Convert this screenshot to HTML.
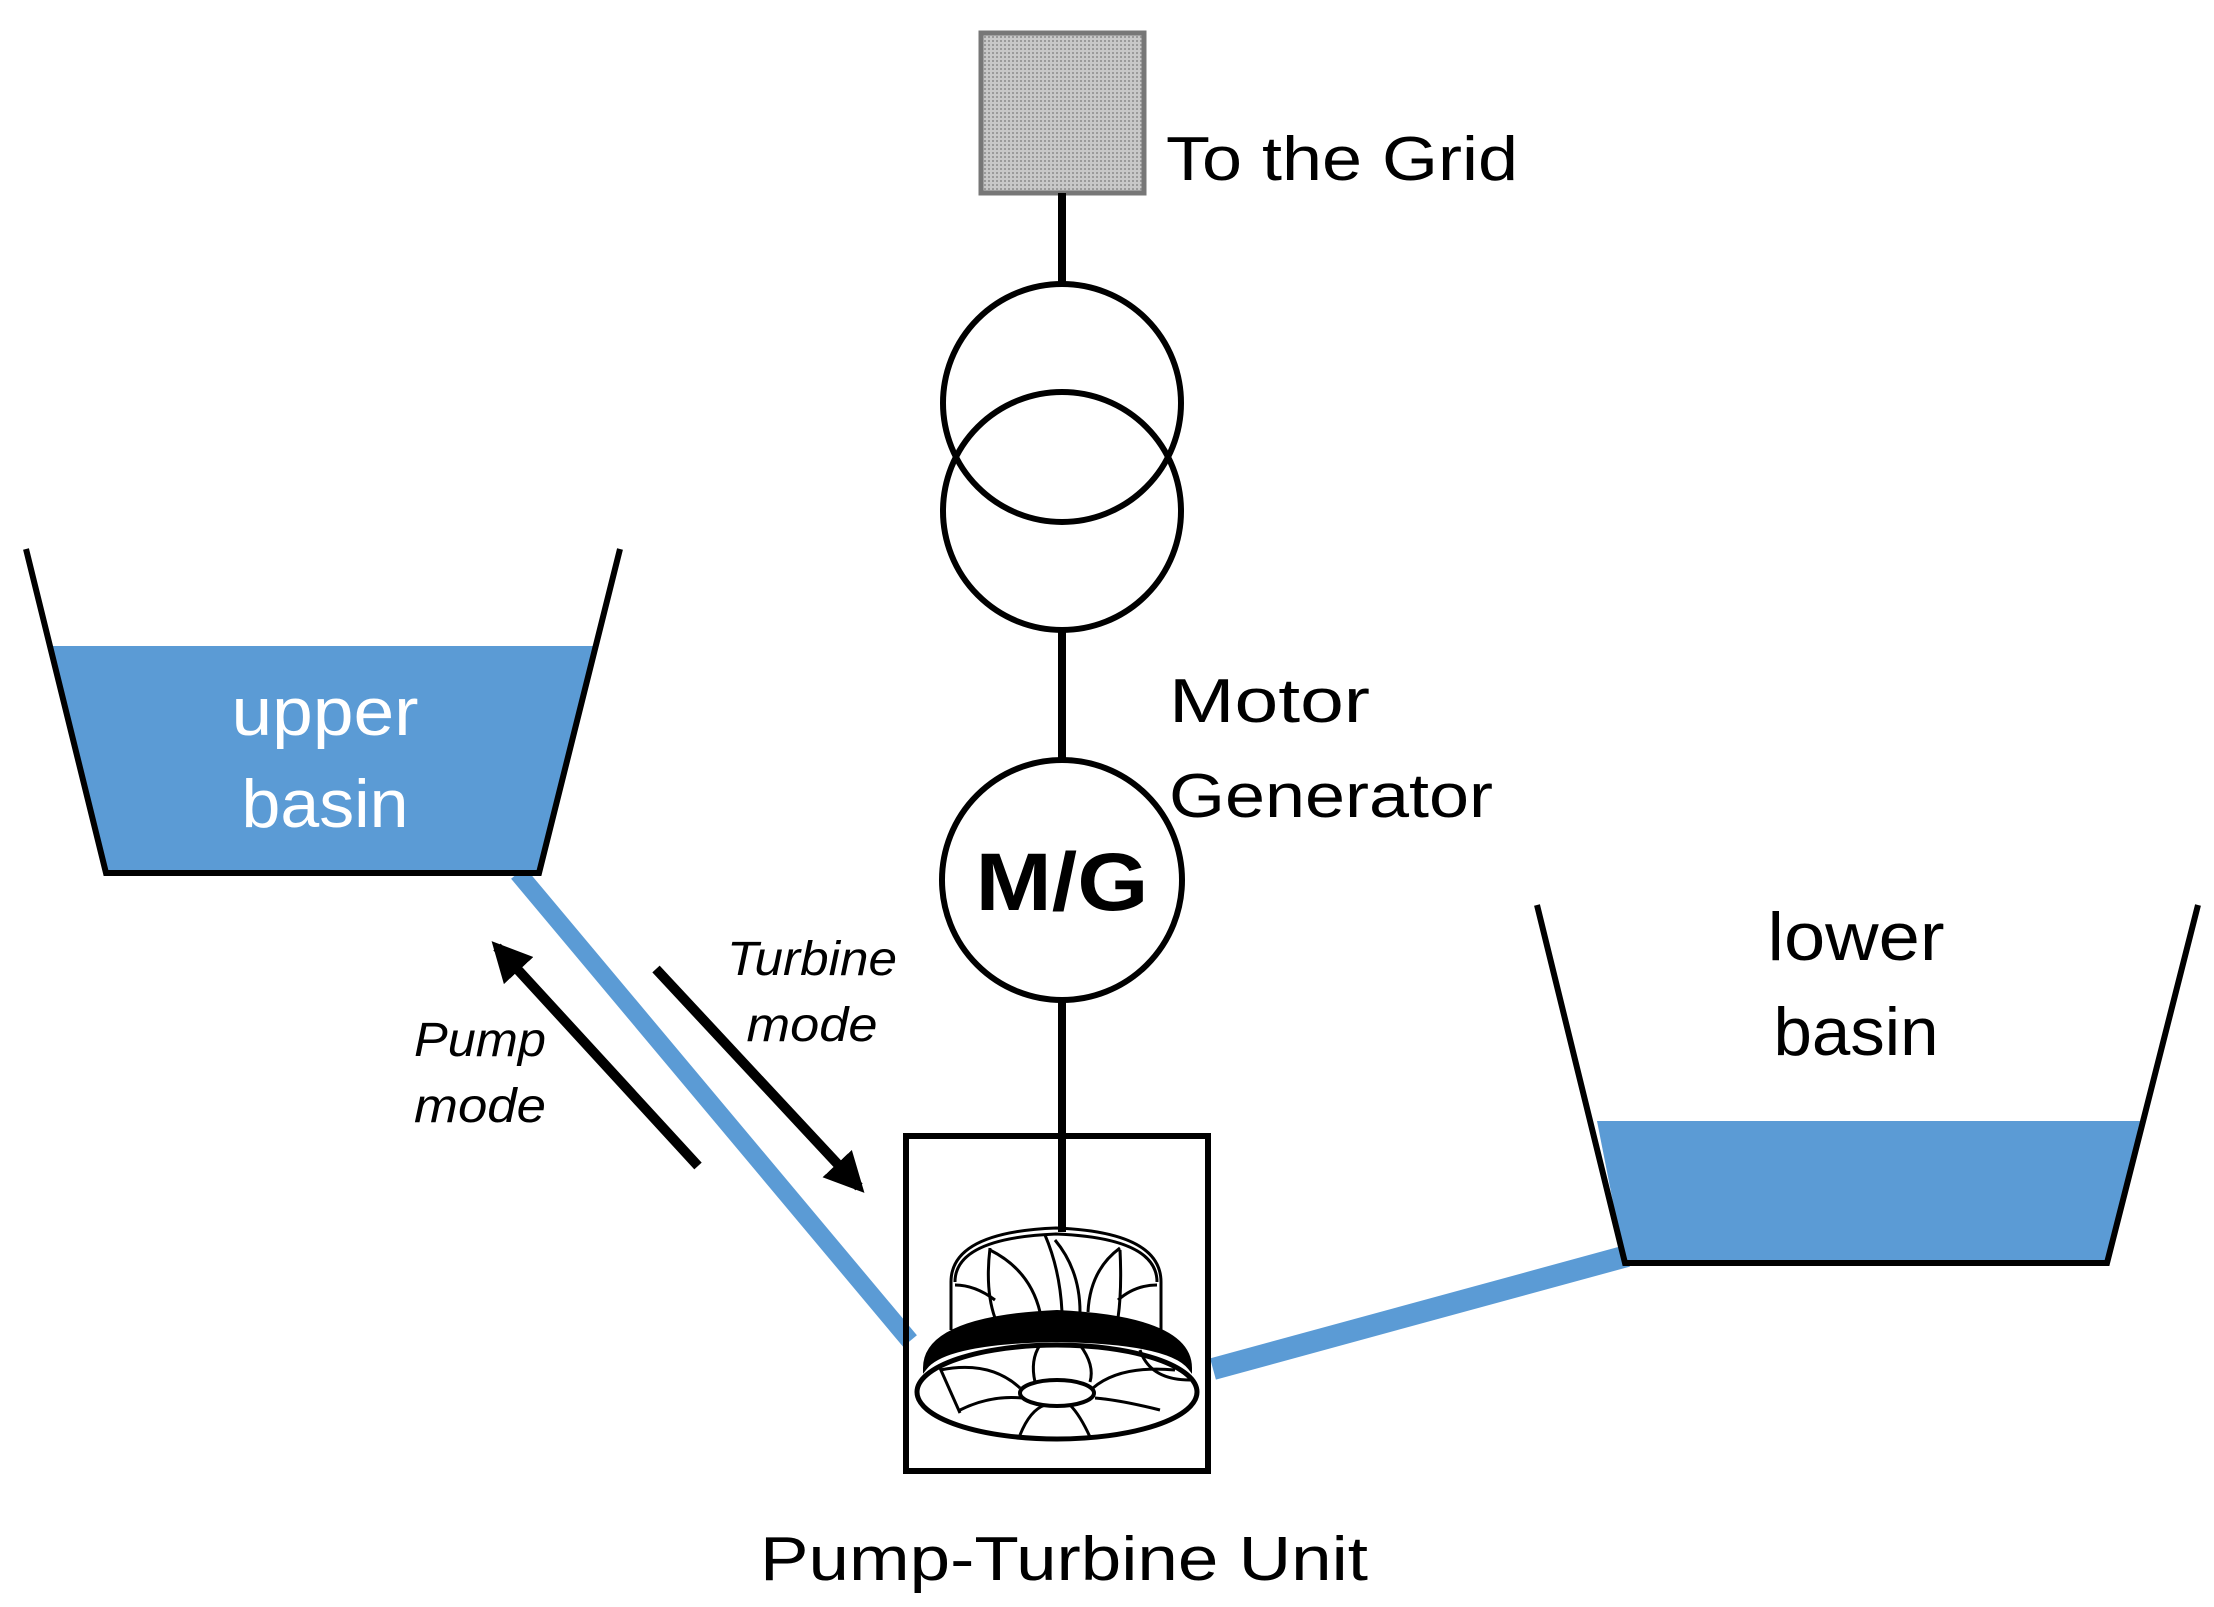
<!DOCTYPE html>
<html><head><meta charset="utf-8"><style>html,body{margin:0;padding:0;background:#fff}svg{display:block}</style></head>
<body>
<svg width="2214" height="1607" viewBox="0 0 2214 1607" xmlns="http://www.w3.org/2000/svg" font-family="Liberation Sans, sans-serif">
<defs>
<pattern id="dots" width="4" height="4" patternUnits="userSpaceOnUse"><rect width="4" height="4" fill="#c8c8c8"/><rect width="2" height="2" fill="#9a9a9a"/></pattern>
<marker id="ah" viewBox="0 0 10 10" refX="8" refY="5" markerWidth="4" markerHeight="4" orient="auto"><path d="M0,0 L10,5 L0,10 z" fill="#000"/></marker>
</defs>
<rect x="981" y="33" width="163" height="160" fill="url(#dots)" stroke="#777" stroke-width="5"/>
<text x="1166" y="180" font-size="62" textLength="352" lengthAdjust="spacingAndGlyphs">To the Grid</text>
<line x1="1062" y1="193" x2="1062" y2="285" stroke="#000" stroke-width="8"/>
<line x1="1062" y1="628" x2="1062" y2="762" stroke="#000" stroke-width="8"/>
<line x1="1062" y1="998" x2="1062" y2="1232" stroke="#000" stroke-width="8"/>
<circle cx="1062" cy="403" r="119" fill="none" stroke="#000" stroke-width="6"/>
<circle cx="1062" cy="511" r="119" fill="none" stroke="#000" stroke-width="6"/>
<circle cx="1062" cy="880" r="120" fill="#fff" stroke="#000" stroke-width="6"/>
<text x="1062" y="910" font-size="82" font-weight="bold" text-anchor="middle" textLength="173" lengthAdjust="spacingAndGlyphs">M/G</text>
<text x="1169" y="722" font-size="62" textLength="201" lengthAdjust="spacingAndGlyphs">Motor</text>
<text x="1169" y="817" font-size="62" textLength="324" lengthAdjust="spacingAndGlyphs">Generator</text>
<line x1="518" y1="873" x2="910" y2="1341" stroke="#5b9bd5" stroke-width="18"/>
<line x1="1213" y1="1369" x2="1627" y2="1256" stroke="#5b9bd5" stroke-width="22"/>
<polygon points="52,646 596,646 539,873 106,873" fill="#5b9bd5"/>
<polyline points="26,549 106,873 539,873 620,549" fill="none" stroke="#000" stroke-width="6"/>
<text x="325" y="735" font-size="68" fill="#fff" text-anchor="middle" textLength="187" lengthAdjust="spacingAndGlyphs">upper</text>
<text x="325" y="827" font-size="68" fill="#fff" text-anchor="middle" textLength="167" lengthAdjust="spacingAndGlyphs">basin</text>
<polygon points="1597,1121 2140,1121 2107,1263 1625,1263" fill="#5b9bd5"/>
<polyline points="1537,905 1625,1263 2107,1263 2198,905" fill="none" stroke="#000" stroke-width="6"/>
<text x="1856" y="960" font-size="68" text-anchor="middle" textLength="177" lengthAdjust="spacingAndGlyphs">lower</text>
<text x="1856" y="1055" font-size="68" text-anchor="middle" textLength="165" lengthAdjust="spacingAndGlyphs">basin</text>
<line x1="698" y1="1166" x2="497" y2="947" stroke="#000" stroke-width="10" marker-end="url(#ah)"/>
<line x1="656" y1="969" x2="859" y2="1187" stroke="#000" stroke-width="10" marker-end="url(#ah)"/>
<text x="480" y="1056" font-size="48" font-style="italic" text-anchor="middle" textLength="132" lengthAdjust="spacingAndGlyphs">Pump</text>
<text x="480" y="1122" font-size="48" font-style="italic" text-anchor="middle" textLength="132" lengthAdjust="spacingAndGlyphs">mode</text>
<text x="812" y="975" font-size="48" font-style="italic" text-anchor="middle" textLength="170" lengthAdjust="spacingAndGlyphs">Turbine</text>
<text x="812" y="1041" font-size="48" font-style="italic" text-anchor="middle" textLength="131" lengthAdjust="spacingAndGlyphs">mode</text>
<rect x="906" y="1136" width="302" height="335" fill="none" stroke="#000" stroke-width="6"/>
<line x1="1062" y1="1136" x2="1062" y2="1232" stroke="#000" stroke-width="8"/>
<g fill="none" stroke="#000" stroke-width="3">
<path d="M951,1282 Q951,1232 1056,1228 Q1161,1232 1161,1282"/>
<path d="M955,1282 Q955,1238 1056,1234 Q1157,1238 1157,1282"/>
<line x1="951" y1="1282" x2="951" y2="1330"/>
<line x1="1161" y1="1282" x2="1161" y2="1330"/>
<path d="M990,1248 Q985,1290 995,1318"/>
<path d="M990,1250 Q1030,1270 1040,1312"/>
<path d="M1045,1235 Q1060,1270 1062,1312"/>
<path d="M1055,1240 Q1080,1270 1080,1312"/>
<path d="M1120,1248 Q1090,1270 1088,1312"/>
<path d="M1120,1250 Q1122,1290 1118,1318"/>
<path d="M955,1285 Q975,1285 995,1300"/>
<path d="M1157,1285 Q1135,1285 1118,1300"/>
<ellipse cx="1057" cy="1392" rx="140" ry="47" stroke-width="5"/>
<ellipse cx="1057" cy="1393" rx="37" ry="13" stroke-width="4"/>
<path d="M940,1370 Q990,1360 1020,1388"/>
<path d="M960,1410 Q990,1395 1022,1398"/>
<path d="M1020,1435 Q1030,1410 1045,1405"/>
<path d="M1090,1437 Q1080,1415 1070,1405"/>
<path d="M1160,1410 Q1120,1400 1095,1398"/>
<path d="M1175,1370 Q1120,1365 1093,1388"/>
<path d="M1040,1345 Q1030,1360 1035,1382"/>
<path d="M1080,1345 Q1095,1365 1090,1382"/>
<path d="M940,1368 L960,1413"/>
<path d="M1140,1350 Q1150,1380 1190,1380"/>
</g>
<path d="M925,1368 Q925,1318 1057,1312 Q1190,1318 1190,1368 Q1170,1342 1057,1340 Q945,1342 925,1368 Z" fill="#000" stroke="#000" stroke-width="4"/>
<text x="1064" y="1580" font-size="62" text-anchor="middle" textLength="608" lengthAdjust="spacingAndGlyphs">Pump-Turbine Unit</text>
</svg>
</body></html>
